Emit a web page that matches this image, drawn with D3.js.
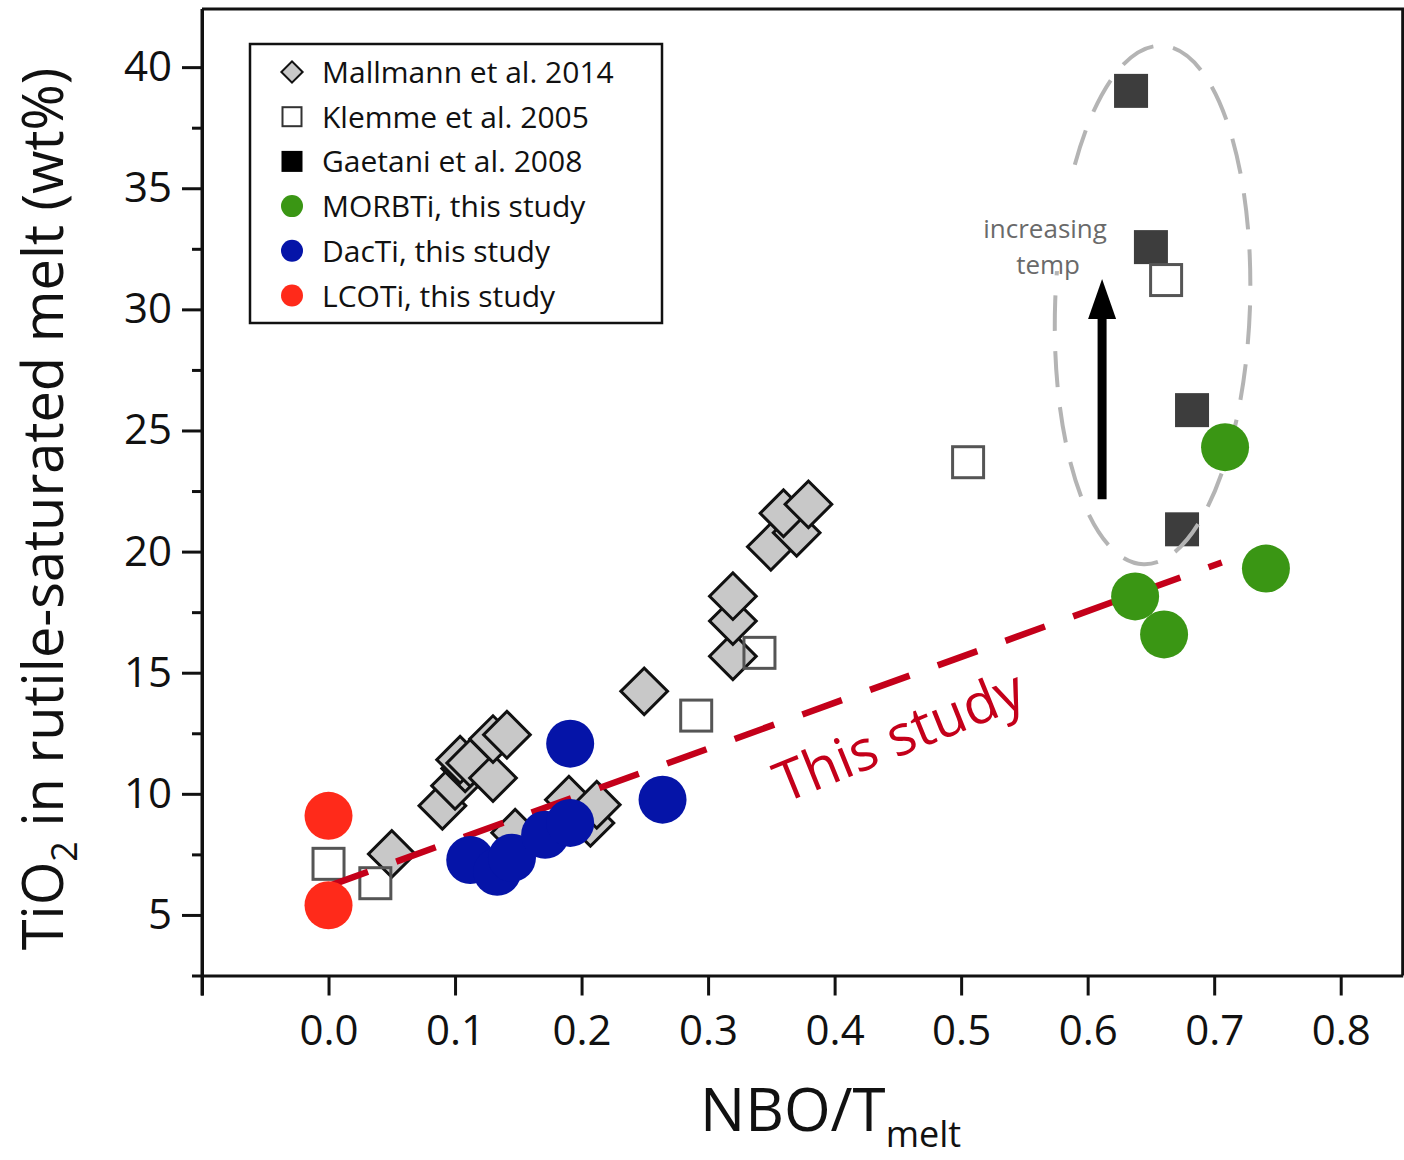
<!DOCTYPE html>
<html><head><meta charset="utf-8">
<script src="https://cdn.jsdelivr.net/npm/d3@7"></script>
<style>body{margin:0;background:#fff} svg{display:block} text{font-family:"Open Sans",sans-serif}</style>
</head><body><svg id="c" width="1404" height="1160"></svg>
<script>
// ---------- data ----------
const mallmannX = [0.050,0.090,0.100,0.108,0.104,0.112,0.130,0.130,0.141,0.1475,0.207,0.190,0.212,0.2495,0.3196,0.3196,0.3196,0.3496,0.370,0.3596,0.3793];
const mallmannY = [7.52,9.51,10.33,11.05,11.41,11.27,10.65,12.26,12.44,8.39,8.80,9.76,9.55,14.23,15.68,17.13,18.16,20.20,20.78,21.58,21.95];
const klemmeX = [0.000,0.037,0.2906,0.3406,0.5055,0.662];
const klemmeY = [7.11,6.31,13.23,15.82,23.69,31.21];
const gaetaniX = [0.6343,0.650,0.6825,0.6746];
const gaetaniY = [39.02,32.57,25.84,20.92];
const morbX = [0.7086,0.7409,0.6375,0.6604];
const morbY = [24.31,19.30,18.15,16.58];
const dacX = [0.112,0.1333,0.145,0.1712,0.191,0.191,0.264];
const dacY = [7.27,6.78,7.36,8.31,8.80,12.07,9.76];
const lcoX = [0.000,0.000];
const lcoY = [9.09,5.40];
const fitX = [0.0,0.706];
const fitY = [6.19,19.55];
const xTicks = [-0.1,0.0,0.1,0.2,0.3,0.4,0.5,0.6,0.7,0.8];
const yTicks = [5,10,15,20,25,30,35,40];
const yMinor = [2.5,7.5,12.5,17.5,22.5,27.5,32.5,37.5];
const legendLabels = ["Mallmann et al. 2014","Klemme et al. 2005","Gaetani et al. 2008","MORBTi, this study","DacTi, this study","LCOTi, this study"];
const ellipseC = [0.6513,30.18], ellipseR = [0.077,10.71];
const arrowX = 0.6114, arrowY = [22.16,31.25];

// ---------- scales ----------
const svg = d3.select("#c");
const x = d3.scaleLinear().domain([-0.1,0.849]).range([202,1402.7]);
const y = d3.scaleLinear().domain([2.5,42.4]).range([975.5,9]);

const C = {dia:"#c8c8c8", klem:"#555", gae:"#3d3d3d", morb:"#3a9614", dac:"#0514a8", lco:"#ff2a1a", fit:"#c4001a"};

// frame top/right
svg.append("path").attr("d",`M${x.range()[0]},${y.range()[1]}H${x.range()[1]}V${y.range()[0]}`)
  .attr("fill","none").attr("stroke","#111").attr("stroke-width",3);

// axes
svg.append("g").attr("transform",`translate(${x.range()[0]},0)`)
  .call(d3.axisLeft(y).tickValues(yTicks).tickSize(20).tickSizeOuter(0).tickPadding(10));
svg.append("g").attr("transform",`translate(${x.range()[0]},0)`)
  .call(d3.axisLeft(y).tickValues(yMinor).tickSize(10).tickSizeOuter(0).tickFormat(""))
  .call(g=>g.select(".domain").remove());
svg.append("g").attr("transform",`translate(0,${y.range()[0]})`)
  .call(d3.axisBottom(x).tickValues(xTicks).tickSize(20).tickSizeOuter(0).tickPadding(20)
  .tickFormat(d=> d<-0.05 ? "" : d3.format(".1f")(d)));
svg.selectAll(".domain").attr("stroke","#111").attr("stroke-width",3);
svg.selectAll(".tick line").attr("stroke","#111").attr("stroke-width",3);
svg.selectAll(".tick text").attr("font-family","Open Sans").attr("font-size",42).attr("fill","#111");
svg.append("line").attr("x1",x.range()[0]).attr("x2",x.range()[0]).attr("y1",y.range()[1]).attr("y2",y.range()[0]+20)
  .attr("stroke","#111").attr("stroke-width",3);

// axis titles
const yt = svg.append("text").attr("transform","translate(63,509) rotate(-90)")
  .attr("text-anchor","middle").attr("font-size",56).attr("fill","#111");
yt.append("tspan").text("TiO");
yt.append("tspan").text("2").attr("font-size",36).attr("dy",14);
yt.append("tspan").text(" in rutile-saturated melt (wt%)").attr("dy",-14);
const xt = svg.append("text").attr("x",700).attr("y",1131).attr("font-size",60).attr("fill","#111");
xt.append("tspan").text("NBO/T");
xt.append("tspan").text("melt").attr("font-size",36).attr("dy",16);

const zip = (a,b)=>a.map((v,i)=>[v,b[i]]);
const sqSide = 34, diaSide = 33, r = 24;

// Mallmann diamonds
svg.append("g").selectAll("path").data(zip(mallmannX,mallmannY)).join("path")
  .attr("d",d3.symbol().type(d3.symbolSquare).size(diaSide*diaSide))
  .attr("transform",d=>`translate(${x(d[0])},${y(d[1])}) rotate(45)`)
  .attr("fill",C.dia).attr("stroke","#111").attr("stroke-width",3);
// Gaetani
svg.append("g").selectAll("rect").data(zip(gaetaniX,gaetaniY)).join("rect")
  .attr("x",d=>x(d[0])-sqSide/2).attr("y",d=>y(d[1])-sqSide/2).attr("width",sqSide).attr("height",sqSide)
  .attr("fill",C.gae);
// Klemme
svg.append("g").selectAll("rect").data(zip(klemmeX,klemmeY)).join("rect")
  .attr("x",d=>x(d[0])-sqSide/2+1.5).attr("y",d=>y(d[1])-sqSide/2+1.5).attr("width",sqSide-3).attr("height",sqSide-3)
  .attr("fill","none").attr("stroke",C.klem).attr("stroke-width",3);

// fit line
svg.append("path").attr("d",d3.line().x(d=>x(d[0])).y(d=>y(d[1]))(zip(fitX,fitY)))
  .attr("stroke",C.fit).attr("stroke-width",6.5).attr("stroke-dasharray","42 30").attr("fill","none");
const lx = x(0.360), ly = y(9.6);
svg.append("text").attr("transform",`translate(${lx},${ly}) rotate(-22)`)
  .attr("font-size",56).attr("fill",C.fit).text("This study");

// ellipse
svg.append("ellipse")
  .attr("transform",`translate(${x(ellipseC[0])},${y(ellipseC[1])}) rotate(2)`)
  .attr("rx",x(ellipseC[0]+ellipseR[0])-x(ellipseC[0])).attr("ry",y(ellipseC[1])-y(ellipseC[1]+ellipseR[1]))
  .attr("fill","none").attr("stroke","#b4b4b4").attr("stroke-width",4).attr("stroke-dasharray","36 20");

// arrow + label
const ax = x(arrowX), ay0 = y(arrowY[0]), ay1 = y(arrowY[1]);
svg.append("line").attr("x1",ax).attr("x2",ax).attr("y1",ay0).attr("y2",ay1+35)
  .attr("stroke","#000").attr("stroke-width",9);
svg.append("path").attr("d",`M${ax},${ay1} L${ax-14},${ay1+40} L${ax+14},${ay1+40} Z`).attr("fill","#000");
svg.append("rect").attr("x",ax-128).attr("y",ay1-100).attr("width",140).attr("height",92).attr("fill","#fff");
svg.append("text").attr("x",ax-57).attr("y",ay1-41).attr("text-anchor","middle").attr("font-size",26).attr("fill","#6a6a6a").text("increasing");
svg.append("text").attr("x",ax-54).attr("y",ay1-5).attr("text-anchor","middle").attr("font-size",26).attr("fill","#6a6a6a").text("temp");

// circles
[[lcoX,lcoY,C.lco],[dacX,dacY,C.dac],[morbX,morbY,C.morb]].forEach(([xs,ys,col])=>{
  svg.append("g").selectAll("circle").data(zip(xs,ys)).join("circle")
    .attr("cx",d=>x(d[0])).attr("cy",d=>y(d[1])).attr("r",r).attr("fill",col);
});

// legend
const lg = svg.append("g");
lg.append("rect").attr("x",250).attr("y",44).attr("width",412).attr("height",279)
  .attr("fill","#fff").attr("stroke","#111").attr("stroke-width",2.5);
const rows = legendLabels.map((t,i)=>({t,i,cy:72+i*44.7}));
lg.selectAll("text").data(rows).join("text").attr("x",322).attr("y",d=>d.cy+11)
  .attr("font-size",30).attr("fill","#111").text(d=>d.t);
const sx = 292;
lg.append("path").attr("d",d3.symbol().type(d3.symbolSquare).size(15*15))
  .attr("transform",`translate(${sx},${rows[0].cy}) rotate(45)`).attr("fill",C.dia).attr("stroke","#111").attr("stroke-width",2);
lg.append("rect").attr("x",sx-9.5).attr("y",rows[1].cy-9.5).attr("width",19).attr("height",19)
  .attr("fill","none").attr("stroke","#333").attr("stroke-width",2);
lg.append("rect").attr("x",sx-10.5).attr("y",rows[2].cy-10.5).attr("width",21).attr("height",21).attr("fill","#000");
[C.morb,C.dac,C.lco].forEach((c,i)=>lg.append("circle").attr("cx",sx).attr("cy",rows[3+i].cy).attr("r",11).attr("fill",c));
</script></body></html>
